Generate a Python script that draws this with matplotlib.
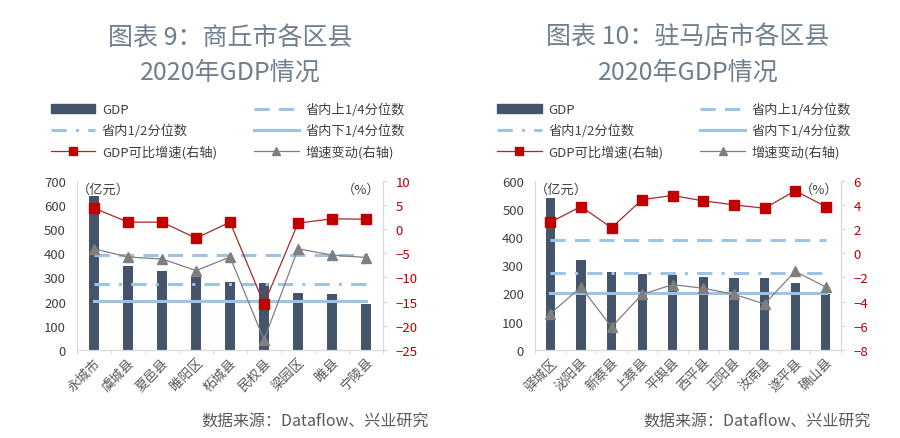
import numpy as np
import matplotlib
matplotlib.use('Agg')
import matplotlib.pyplot as plt
from matplotlib.lines import Line2D
from matplotlib.patches import Patch

plt.rcParams['font.family'] = ['Noto Sans CJK SC', 'DejaVu Sans']

# 商丘市
sq_names = ['永城市', '虞城县', '夏邑县', '睢阳区', '柘城县', '民权县', '梁园区', '睢县', '宁陵县']
sq_gdp = [638, 346, 328, 307, 282, 275, 235, 233, 190]
sq_growth = [4.3, 1.4, 1.4, -1.9, 1.4, -15.5, 1.2, 2.1, 2.0]
sq_change = [-4.1, -5.8, -6.2, -8.6, -5.8, -22.9, -4.1, -5.4, -5.9]

# 驻马店市
zmd_names = ['驿城区', '泌阳县', '新蔡县', '上蔡县', '平舆县', '西平县', '正阳县', '汝南县', '遂平县', '确山县']
zmd_gdp = [537, 317, 275, 269, 266, 257, 256, 254, 236, 198]
zmd_growth = [2.55, 3.85, 2.1, 4.43, 4.76, 4.32, 3.99, 3.71, 5.15, 3.85]
zmd_change = [-5.0, -2.8, -6.1, -3.4, -2.6, -2.9, -3.4, -4.2, -1.5, -2.8]

# 省内分位数 (亿元)
q_upper = 391
q_median = 272
q_lower = 201

BAR = '#44546a'
QCOL = '#9dc3e6'
RED = '#c00000'
GRAY = '#7f7f7f'
SPINE = '#d9d9d9'
TITLE = '#6e7f8f'


def draw_panel(fig, left, names, gdp, growth, change, ylim, yticks, ylim2, yticks2,
               title, leg_cx, src_right):
    ax = fig.add_axes([left, 0.2005, 0.34, 0.386])
    x = np.arange(len(names))
    ax.bar(x, gdp, width=0.3, color=BAR, zorder=2)
    ax.plot(x, [q_upper] * len(x), color=QCOL, lw=2.2, dashes=(5, 3), zorder=3)
    ax.plot(x, [q_median] * len(x), color=QCOL, lw=2.2, dashes=(5, 3, 1, 3), zorder=3)
    ax.plot(x, [q_lower] * len(x), color=QCOL, lw=2.2, zorder=3)
    ax.set_xlim(-0.5, len(names) - 0.5)
    ax.set_ylim(*ylim)
    ax.set_yticks(yticks)
    ax.set_xticks(x)
    ax.set_xticklabels(names, rotation=45, ha='right', rotation_mode='anchor',
                       fontsize=9.5, color='#595959')
    ax.tick_params(axis='y', labelsize=9.5, colors='#404040', length=0, pad=8)
    ax.tick_params(axis='x', length=0, pad=4)
    ax.set_xticks(np.arange(len(names) + 1) - 0.5, minor=True)
    ax.tick_params(axis='x', which='minor', length=3, color=SPINE)
    for s in ax.spines.values():
        s.set_color(SPINE)
    ax.spines['top'].set_visible(False)

    ax2 = ax.twinx()
    ax2.plot(x, change, color=GRAY, lw=0.9, marker='^', ms=7,
             markerfacecolor=GRAY, markeredgecolor=GRAY, zorder=4)
    ax2.plot(x, growth, color='#a52a2a', lw=0.9, marker='s', ms=7,
             markerfacecolor=RED, markeredgecolor=RED, zorder=5)
    ax2.set_ylim(*ylim2)
    ax2.set_yticks(yticks2)
    ax2.tick_params(axis='y', labelsize=9.5, colors=RED, length=3, pad=6)
    ax2.tick_params(axis='y', color=SPINE)
    for s in ax2.spines.values():
        s.set_color(SPINE)
    ax2.spines['top'].set_visible(False)
    ax2.set_zorder(ax.get_zorder() + 1)
    ax2.patch.set_visible(False)

    ax.text(0.0, 0.985, '（亿元）', transform=ax.transAxes, fontsize=9.5,
            color='#404040', va='top', ha='left')
    ax.text(0.99, 0.985, '（%）', transform=ax.transAxes, fontsize=9.5,
            color='#404040', va='top', ha='right')

    cx = left + 0.17
    fig.text(cx, 0.915, title[0], ha='center', va='center', fontsize=18, color=TITLE)
    fig.text(cx, 0.835, title[1], ha='center', va='center', fontsize=18, color=TITLE)

    handles = [
        Patch(color=BAR, label='GDP'),
        Line2D([], [], color=QCOL, lw=2.2, dashes=(5, 3, 1, 3), label='省内1/2分位数'),
        Line2D([], [], color='#a52a2a', lw=0.9, marker='s', ms=6,
               markerfacecolor=RED, markeredgecolor=RED, label='GDP可比增速(右轴)'),
        Line2D([], [], color=QCOL, lw=2.2, dashes=(5, 3), label='省内上1/4分位数'),
        Line2D([], [], color=QCOL, lw=2.2, label='省内下1/4分位数'),
        Line2D([], [], color=GRAY, lw=0.9, marker='^', ms=6,
               markerfacecolor=GRAY, markeredgecolor=GRAY, label='增速变动(右轴)'),
    ]
    fig.legend(handles=handles, ncol=2, loc='center', frameon=False,
               bbox_to_anchor=(leg_cx, 0.70), fontsize=9.5, handlelength=3.4,
               columnspacing=2.8, labelspacing=0.55, handletextpad=0.5,
               labelcolor='#404040')

    fig.text(src_right, 0.038, '数据来源：Dataflow、兴业研究', ha='right', va='center',
             fontsize=11.5, color='#595959')


fig = plt.figure(figsize=(9, 4.39), dpi=100)

draw_panel(fig, 0.0856, sq_names, sq_gdp, sq_growth, sq_change,
           (0, 700), range(0, 701, 100), (-25, 10), range(-25, 11, 5),
           ('图表 9：商丘市各区县', '2020年GDP情况'), 0.253, 0.476)
draw_panel(fig, 0.5945, zmd_names, zmd_gdp, zmd_growth, zmd_change,
           (0, 600), range(0, 601, 100), (-8, 6), range(-8, 7, 2),
           ('图表 10：驻马店市各区县', '2020年GDP情况'), 0.749, 0.967)

fig.savefig('out.png', dpi=100)
